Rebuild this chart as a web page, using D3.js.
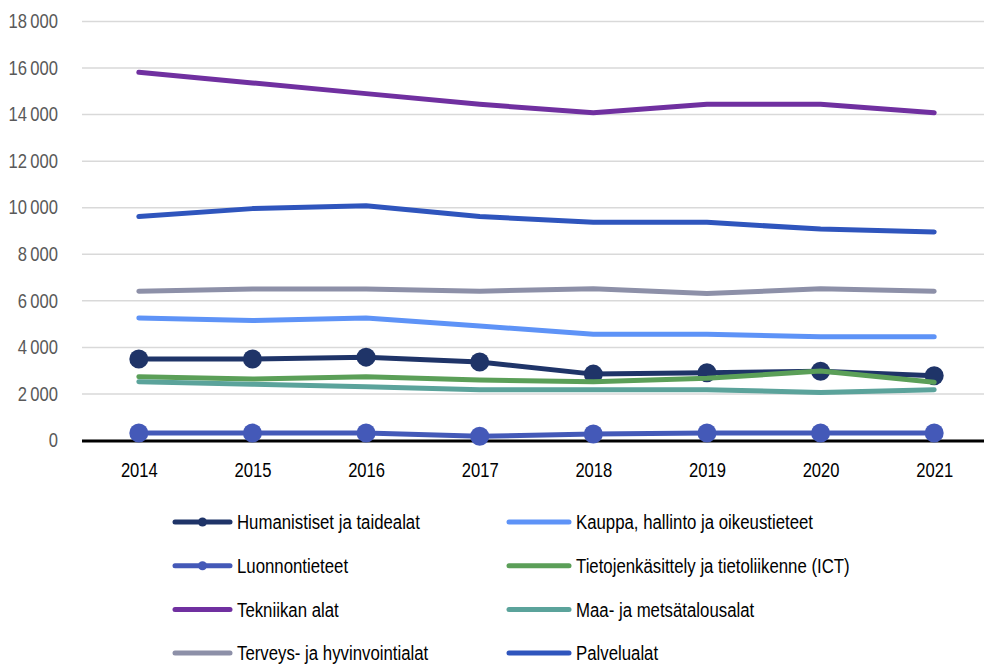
<!DOCTYPE html>
<html>
<head>
<meta charset="utf-8">
<script src="https://cdn.jsdelivr.net/npm/d3@7"></script>
<style>
  body { margin: 0; background: #fff; }
  text { font-family: "Liberation Sans", Arial, sans-serif; }
</style>
</head>
<body>
<script>
// Categories and tick values
var years = ["2014", "2015", "2016", "2017", "2018", "2019", "2020", "2021"];
var yTicks = [0, 2000, 4000, 6000, 8000, 10000, 12000, 14000, 16000, 18000];

// Series values
var humanistiset = [3480, 3480, 3560, 3350, 2830, 2890, 2950, 2760];
var kauppa = [5240, 5130, 5240, 4900, 4540, 4540, 4440, 4440];
var luonnontieteet = [300, 300, 300, 160, 260, 300, 300, 300];
var ict = [2720, 2620, 2720, 2580, 2500, 2650, 2960, 2480];
var tekniikka = [15800, 15340, 14880, 14420, 14060, 14420, 14420, 14060];
var maa = [2500, 2400, 2290, 2160, 2160, 2160, 2040, 2160];
var terveys = [6390, 6490, 6490, 6390, 6500, 6290, 6500, 6390];
var palvelu = [9600, 9940, 10060, 9600, 9350, 9350, 9060, 8940];

var names = ["Humanistiset ja taidealat", "Kauppa, hallinto ja oikeustieteet",
  "Luonnontieteet", "Tietojenkäsittely ja tietoliikenne (ICT)",
  "Tekniikan alat", "Maa- ja metsätalousalat",
  "Terveys- ja hyvinvointialat", "Palvelualat"];
var values = [humanistiset, kauppa, luonnontieteet, ict, tekniikka, maa, terveys, palvelu];
var colors = ["#1F3468", "#5E93F7", "#4459B8", "#5B9F58", "#7030A0", "#5BA39B", "#8D90A8", "#2F55BD"];
var markers = [true, false, true, false, false, false, false, false];

var series = names.map(function(n, i) {
  return {name: n, values: values[i], color: colors[i], marker: markers[i]};
});

var width = 984, height = 664;

// The original font is a condensed face, so squeeze text horizontally
function squeeze(sel, s) {
  sel.each(function() {
    var t = d3.select(this);
    var tx = +t.attr("x") || 0;
    t.attr("x", 0).attr("transform", "translate(" + tx + ",0) scale(" + s + ",1)");
  });
}

var svg = d3.select("body").append("svg")
    .attr("width", width)
    .attr("height", height);

// Scales
var x = d3.scalePoint()
    .domain(years)
    .range([82, 991])
    .padding(0.5);
var y = d3.scaleLinear()
    .domain([0, 18000])
    .range([440, 21]);

var locale = d3.formatLocale({decimal: ",", thousands: "\u2009", grouping: [3], currency: ["", "€"]});
var fmt = locale.format(",");

// Gridlines + y labels
var yAxis = svg.append("g")
    .attr("transform", "translate(82,0)")
    .call(d3.axisLeft(y).tickValues(yTicks).tickSize(-(991 - 82)).tickPadding(24).tickFormat(fmt));
yAxis.select(".domain").remove();
yAxis.selectAll(".tick line").attr("stroke", "#d9d9d9").attr("stroke-width", 1.5);
yAxis.selectAll(".tick text")
    .attr("fill", "#595959")
    .style("font-size", "21px")
    .call(squeeze, 0.79);

// Zero line
svg.append("line")
    .attr("x1", 82).attr("x2", width)
    .attr("y1", y(0) + 1).attr("y2", y(0) + 1)
    .attr("stroke", "#000")
    .attr("stroke-width", 3);

// X labels
var xAxis = svg.append("g")
    .attr("transform", "translate(0," + y(0) + ")")
    .call(d3.axisBottom(x).tickSize(0).tickPadding(22));
xAxis.select(".domain").remove();
xAxis.selectAll(".tick text")
    .attr("fill", "#000")
    .style("font-size", "21px")
    .call(squeeze, 0.79);

var line = d3.line()
    .x(function(d, i) { return x(years[i]); })
    .y(function(d) { return y(d); });

// Lines and markers
series.forEach(function(s) {
  var g = svg.append("g");
  g.append("path")
    .datum(s.values)
    .attr("fill", "none")
    .attr("stroke", s.color)
    .attr("stroke-width", 5)
    .attr("stroke-linejoin", "round")
    .attr("stroke-linecap", "round")
    .attr("d", line);
  if (s.marker) {
    g.selectAll("circle")
      .data(s.values)
      .enter().append("circle")
      .attr("cx", function(d, i) { return x(years[i]); })
      .attr("cy", function(d) { return y(d); })
      .attr("r", 9.5)
      .attr("fill", s.color);
  }
});

// Legend, two columns
var legend = svg.append("g");
series.forEach(function(s, i) {
  var col = i % 2, row = Math.floor(i / 2);
  var lx = col === 0 ? 175 : 509;
  var ly = 522 + row * 43.7;
  var sw = col === 0 ? 55 : 60;
  var item = legend.append("g").attr("transform", "translate(" + lx + "," + ly + ")");
  item.append("line")
    .attr("x1", 0).attr("x2", sw)
    .attr("stroke", s.color)
    .attr("stroke-width", 5)
    .attr("stroke-linecap", "round");
  if (s.marker) {
    item.append("circle").attr("cx", sw / 2).attr("r", 4.5).attr("fill", s.color);
  }
  item.append("text")
    .attr("x", sw + 7)
    .attr("dy", "0.35em")
    .attr("fill", "#000")
    .style("font-size", "21px")
    .text(s.name)
    .call(squeeze, 0.8);
});
</script>
</body>
</html>
